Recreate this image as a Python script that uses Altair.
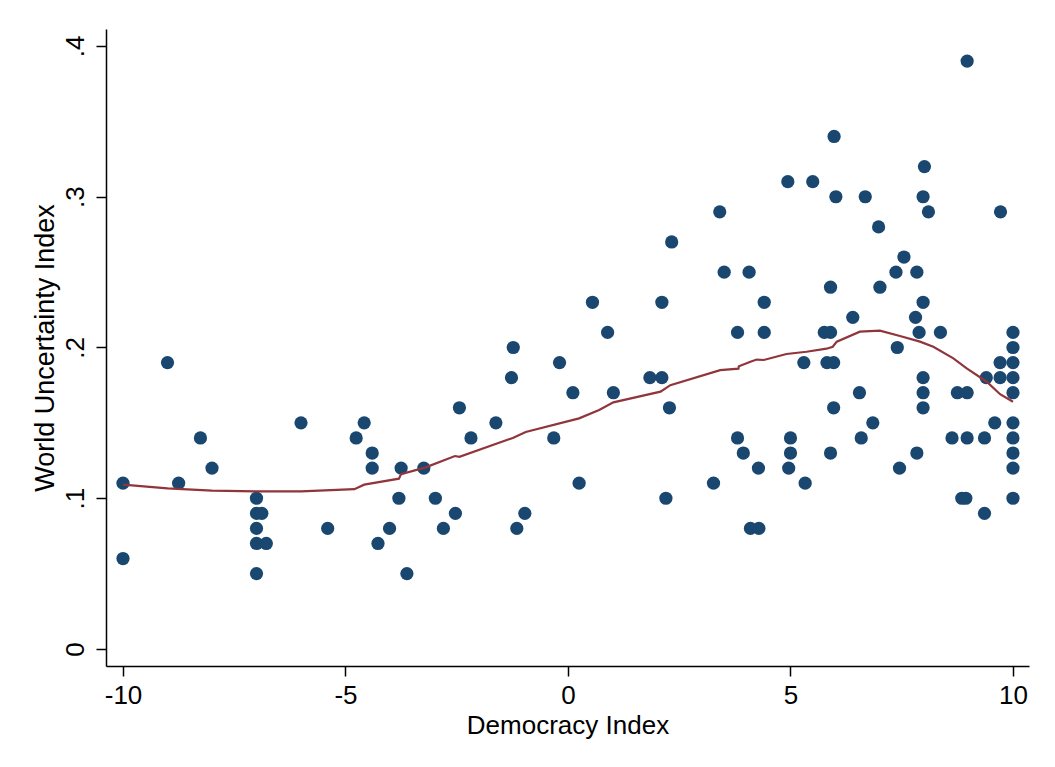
import altair as alt
import pandas as pd

# Scatter data: Democracy Index (x) vs World Uncertainty Index (y)
dem = [-10, -10, -9.0, -8.75, -8.26, -8.0,
       -7, -7, -6.88, -7, -7, -6.78, -7,
       -6.0, -5.4, -4.76, -4.58, -4.4, -4.4, -4.27, -4.01, -3.8, -3.75, -3.62,
       -3.24, -2.98, -2.8, -2.53, -2.44, -2.18, -1.62, -1.27, -1.23, -1.15, -0.97,
       -0.32, -0.19, 0.11, 0.25, 0.55, 0.89, 1.02, 1.84, 2.11, 2.11, 2.2, 2.28, 2.33,
       3.27, 3.41, 3.51, 3.81, 3.81, 3.94, 4.07, 4.1, 4.29, 4.28, 4.41, 4.41,
       4.94, 5.0, 5.0, 4.96, 5.3, 5.33, 5.5, 5.76, 5.9, 5.9, 5.82, 5.97, 5.9, 5.98, 6.02, 5.97,
       6.4, 6.55, 6.59, 6.68, 6.85, 6.98, 7.01, 7.37, 7.4, 7.45, 7.55, 7.81, 7.84, 7.84,
       7.89, 7.98, 7.98, 8.01, 7.98, 7.98, 7.98, 8.1, 8.37, 8.63, 8.75, 8.85, 8.94,
       8.97, 8.97, 8.97, 9.36, 9.36, 9.4, 9.59, 9.71, 9.71, 9.72,
       10, 10, 10, 10, 10, 10, 10, 10, 10, 10]
wui = [0.11, 0.06, 0.19, 0.11, 0.14, 0.12,
       0.10, 0.09, 0.09, 0.08, 0.07, 0.07, 0.05,
       0.15, 0.08, 0.14, 0.15, 0.13, 0.12, 0.07, 0.08, 0.10, 0.12, 0.05,
       0.12, 0.10, 0.08, 0.09, 0.16, 0.14, 0.15, 0.18, 0.20, 0.08, 0.09,
       0.14, 0.19, 0.17, 0.11, 0.23, 0.21, 0.17, 0.18, 0.18, 0.23, 0.10, 0.16, 0.27,
       0.11, 0.29, 0.25, 0.21, 0.14, 0.13, 0.25, 0.08, 0.08, 0.12, 0.23, 0.21,
       0.31, 0.14, 0.13, 0.12, 0.19, 0.11, 0.31, 0.21, 0.21, 0.24, 0.19, 0.19, 0.13, 0.34, 0.30, 0.16,
       0.22, 0.17, 0.14, 0.30, 0.15, 0.28, 0.24, 0.25, 0.20, 0.12, 0.26, 0.22, 0.25, 0.13,
       0.21, 0.23, 0.30, 0.32, 0.18, 0.17, 0.16, 0.29, 0.21, 0.14, 0.17, 0.10, 0.10,
       0.17, 0.14, 0.39, 0.14, 0.09, 0.18, 0.15, 0.19, 0.18, 0.29,
       0.21, 0.20, 0.19, 0.18, 0.17, 0.15, 0.14, 0.13, 0.12, 0.10]

# Lowess fit line
fit_x = [-10, -9, -8, -7, -6, -4.8, -4.58, -3.8, -3.75, -3.2, -2.54, -2.44, -1.24,
         -0.95, 0.25, 0.7, 1.02, 2.08, 2.3, 3.42, 3.83, 3.84, 4.1, 4.24, 4.4, 4.91,
         5.36, 5.81, 5.95, 6.04, 6.56, 7.01, 7.46, 7.91, 8.21, 8.66, 8.96, 9.41, 9.71, 10]
fit_y = [0.109, 0.1065, 0.105, 0.1045, 0.1045, 0.106, 0.109, 0.113, 0.116, 0.1205,
         0.128, 0.1275, 0.140, 0.144, 0.153, 0.1585, 0.1636, 0.1707, 0.175, 0.185,
         0.186, 0.1875, 0.1906, 0.192, 0.1917, 0.1957, 0.1972, 0.1992, 0.2005, 0.2039,
         0.2105, 0.2112, 0.2076, 0.2039, 0.2005, 0.1928, 0.1862, 0.1773, 0.169, 0.164]

x_ticks = [-10, -5, 0, 5, 10]
y_ticks = [0, 0.1, 0.2, 0.3, 0.4]

pts = pd.DataFrame({"x": dem, "y": wui})
fit = pd.DataFrame({"x": fit_x, "y": fit_y, "o": list(range(len(fit_x)))})

FONT = "Liberation Sans"

xs = alt.Scale(domain=[-10.382, 10.36], nice=False, zero=False)
ys = alt.Scale(domain=[-0.01128, 0.41128], nice=False, zero=False)

x_axis = alt.Axis(values=x_ticks, title="Democracy Index", grid=False,
                  labelExpr="'' + datum.value", tickSize=10, labelPadding=6,
                  labelFontSize=26, titleFontSize=26, titlePadding=4,
                  domainColor="black", tickColor="black", labelColor="black",
                  titleColor="black", labelFont=FONT, titleFont=FONT,
                  titleFontWeight="normal", domainWidth=1.5, tickWidth=1.5)
y_axis = alt.Axis(values=y_ticks, title="World Uncertainty Index", grid=False,
                  labelExpr="datum.value == 0 ? '0' : replace(format(datum.value, '.1f'), '0.', '.')",
                  labelAngle=270, labelAlign="center", labelBaseline="bottom",
                  tickSize=10, labelPadding=8,
                  labelFontSize=26, titleFontSize=27, titlePadding=3,
                  domainColor="black", tickColor="black", labelColor="black",
                  titleColor="black", labelFont=FONT, titleFont=FONT,
                  titleFontWeight="normal", domainWidth=1.5, tickWidth=1.5)

points = alt.Chart(pts).mark_circle(size=175, opacity=1, color="#1a476f").encode(
    x=alt.X("x:Q", scale=xs, axis=x_axis),
    y=alt.Y("y:Q", scale=ys, axis=y_axis),
)

line = alt.Chart(fit).mark_line(color="#90353b", strokeWidth=2.2).encode(
    x=alt.X("x:Q", scale=xs),
    y=alt.Y("y:Q", scale=ys),
    order="o:Q",
)

chart = (points + line).properties(
    width=923, height=637,
    autosize=alt.AutoSizeParams(type="none"),
    padding={"left": 98, "top": 21, "right": 10, "bottom": 90},
).configure(background="white").configure_view(stroke=None)

chart.save("out.html", embed_options={"renderer": "svg", "actions": False})
